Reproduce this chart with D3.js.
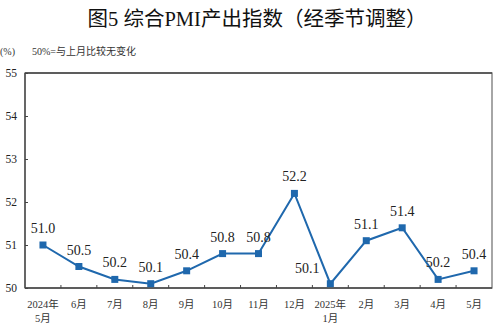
<!DOCTYPE html>
<html><head><meta charset="utf-8">
<script src="https://cdn.jsdelivr.net/npm/d3@7"></script>
<style>body{margin:0;background:#fff}svg{display:block}</style>
</head><body>
<svg id="c" width="497" height="327"></svg>
<script>
const categories = ["2024年\n5月","6月","7月","8月","9月","10月","11月","12月","2025年\n1月","2月","3月","4月","5月"];
const values = [51.0,50.5,50.2,50.1,50.4,50.8,50.8,52.2,50.1,51.1,51.4,50.2,50.4];
const yTicks = [50,51,52,53,54,55];
const title = "图5  综合PMI产出指数（经季节调整）";
const note = "50%=与上月比较无变化";
const unit = "(%)";

const svg = d3.select("#c");
const m = {l:25, r:492, t:73, b:288};
const x = d3.scaleBand().domain(d3.range(categories.length)).range([m.l, m.r]);
const y = d3.scaleLinear().domain([50,55]).range([m.b, m.t]);
const serif = "'Liberation Serif','Noto Sans CJK SC',serif";
const lineColor = "#1f68ad";

svg.append("text").attr("x", 257).attr("y", 26).attr("text-anchor","middle")
  .attr("font-family",serif).attr("font-size",20.5).attr("font-weight",400)
  .attr("fill","#111").text(title);
svg.append("text").attr("x", 0).attr("y", 55).attr("font-family",serif).attr("font-size",10).attr("fill","#333").text(unit);
svg.append("text").attr("x", 32).attr("y", 55).attr("font-family",serif).attr("font-size",10).attr("fill","#333").text(note);

// frame
svg.append("rect").attr("x",m.l).attr("y",m.t).attr("width",m.r-m.l).attr("height",m.b-m.t)
  .attr("fill","none").attr("stroke","#777").attr("stroke-width",1.3);
svg.append("line").attr("x1",m.l).attr("x2",m.l).attr("y1",m.t).attr("y2",m.b).attr("stroke","#444").attr("stroke-width",1.3);
svg.append("line").attr("x1",m.l).attr("x2",m.r).attr("y1",m.b).attr("y2",m.b).attr("stroke","#444").attr("stroke-width",1.3);
svg.append("line").attr("x1",m.l).attr("x2",m.r).attr("y1",m.t).attr("y2",m.t).attr("stroke","#444").attr("stroke-width",1.3);

// y axis
const ya = svg.append("g").attr("transform",`translate(${m.l},0)`)
  .call(d3.axisLeft(y).tickValues(yTicks).tickSize(-3).tickPadding(8).tickFormat(d3.format("d")));
ya.select(".domain").remove();
ya.selectAll("line").attr("stroke","#444");
ya.selectAll("text").attr("font-family",serif).attr("font-size",11.5).attr("fill","#222");

// x ticks at band boundaries
const bounds = d3.range(1, categories.length);
svg.append("g").selectAll("line").data(bounds).join("line")
  .attr("x1", i=>x(i)).attr("x2", i=>x(i)).attr("y1", m.b).attr("y2", m.b-3).attr("stroke","#444");

// x labels
const xl = svg.append("g").selectAll("text").data(categories).join("text")
  .attr("x",(d,i)=>x(i)+x.bandwidth()/2).attr("y",308).attr("text-anchor","middle")
  .attr("font-family",serif).attr("font-size",10.5).attr("fill","#333");
xl.each(function(d){
  const t = d3.select(this);
  d.split("\n").forEach((s,k)=>t.append("tspan").attr("x",t.attr("x")).attr("dy",k?14:0).text(s));
});

// line
const cx = i => x(i)+x.bandwidth()/2;
svg.append("path").datum(values).attr("fill","none").attr("stroke",lineColor).attr("stroke-width",2)
  .attr("d", d3.line().x((d,i)=>cx(i)).y(d=>y(d)));
svg.append("g").selectAll("rect").data(values).join("rect")
  .attr("x",(d,i)=>cx(i)-3.5).attr("y",d=>y(d)-3.5).attr("width",7).attr("height",7).attr("fill",lineColor);

// value labels
svg.append("g").selectAll("text").data(values).join("text")
  .attr("x",(d,i)=> i===8 ? cx(i)-23 : cx(i))
  .attr("y",(d,i)=> i===8 ? y(d)-11 : y(d)-12)
  .attr("text-anchor","middle").attr("font-family",serif).attr("font-size",14).attr("fill","#222")
  .text(d=>d3.format(".1f")(d));
</script>
</body></html>
